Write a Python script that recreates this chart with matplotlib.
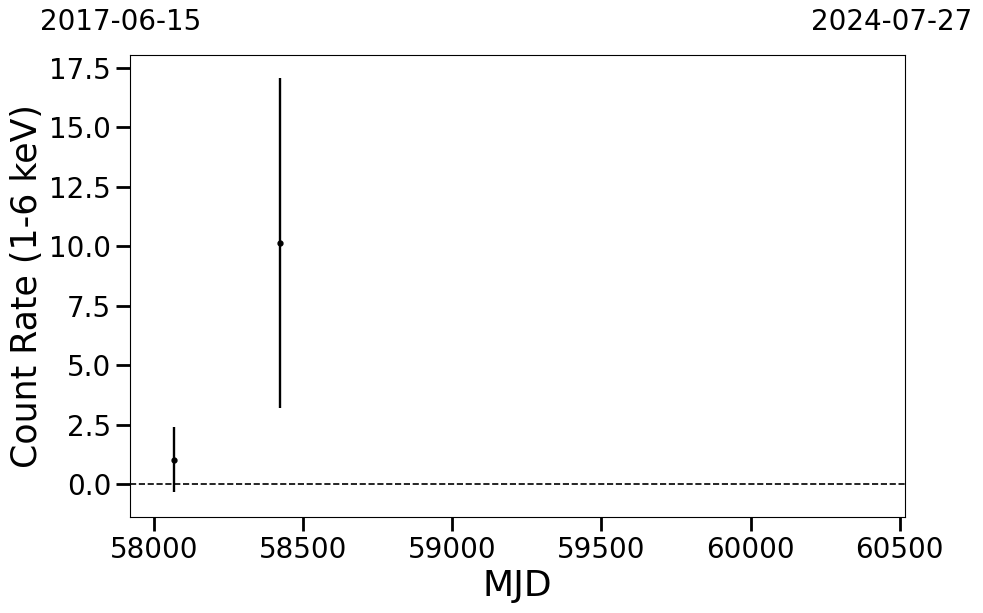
import matplotlib
matplotlib.use("Agg")
import matplotlib.pyplot as plt

mjd = [58067, 58423]
rate = [1.02, 10.14]
rate_err = [1.36, 6.93]
xlim = (57919, 60518)
start_label = "2017-06-15"
end_label = "2024-07-27"

fig = plt.figure(figsize=(9.83, 6.13), dpi=100)
ax = fig.add_axes([130/983, 1-517/613, 775/983, 462/613])
ax.errorbar(mjd, rate, yerr=rate_err, fmt='o', color='black', ms=3.5, elinewidth=1.7, capsize=0)
ax.axhline(0, color='black', ls='--', lw=1.2)
ax.set_xlim(*xlim)
ax.set_ylim(-1.39, 18.05)
ax.set_xticks([58000, 58500, 59000, 59500, 60000, 60500])
ax.set_yticks([0, 2.5, 5, 7.5, 10, 12.5, 15, 17.5])
ax.yaxis.set_major_formatter(matplotlib.ticker.FormatStrFormatter('%.1f'))
ax.tick_params(axis='both', which='major', labelsize=20, length=10, width=2)
ax.set_xlabel("MJD", fontsize=26)
ax.set_ylabel("Count Rate (1-6 keV)", fontsize=25)
fig.text(40/983, 1-22/613, start_label, fontsize=20, ha='left', va='center')
fig.text(972/983, 1-22/613, end_label, fontsize=20, ha='right', va='center')
fig.savefig("out.png", dpi=100)
